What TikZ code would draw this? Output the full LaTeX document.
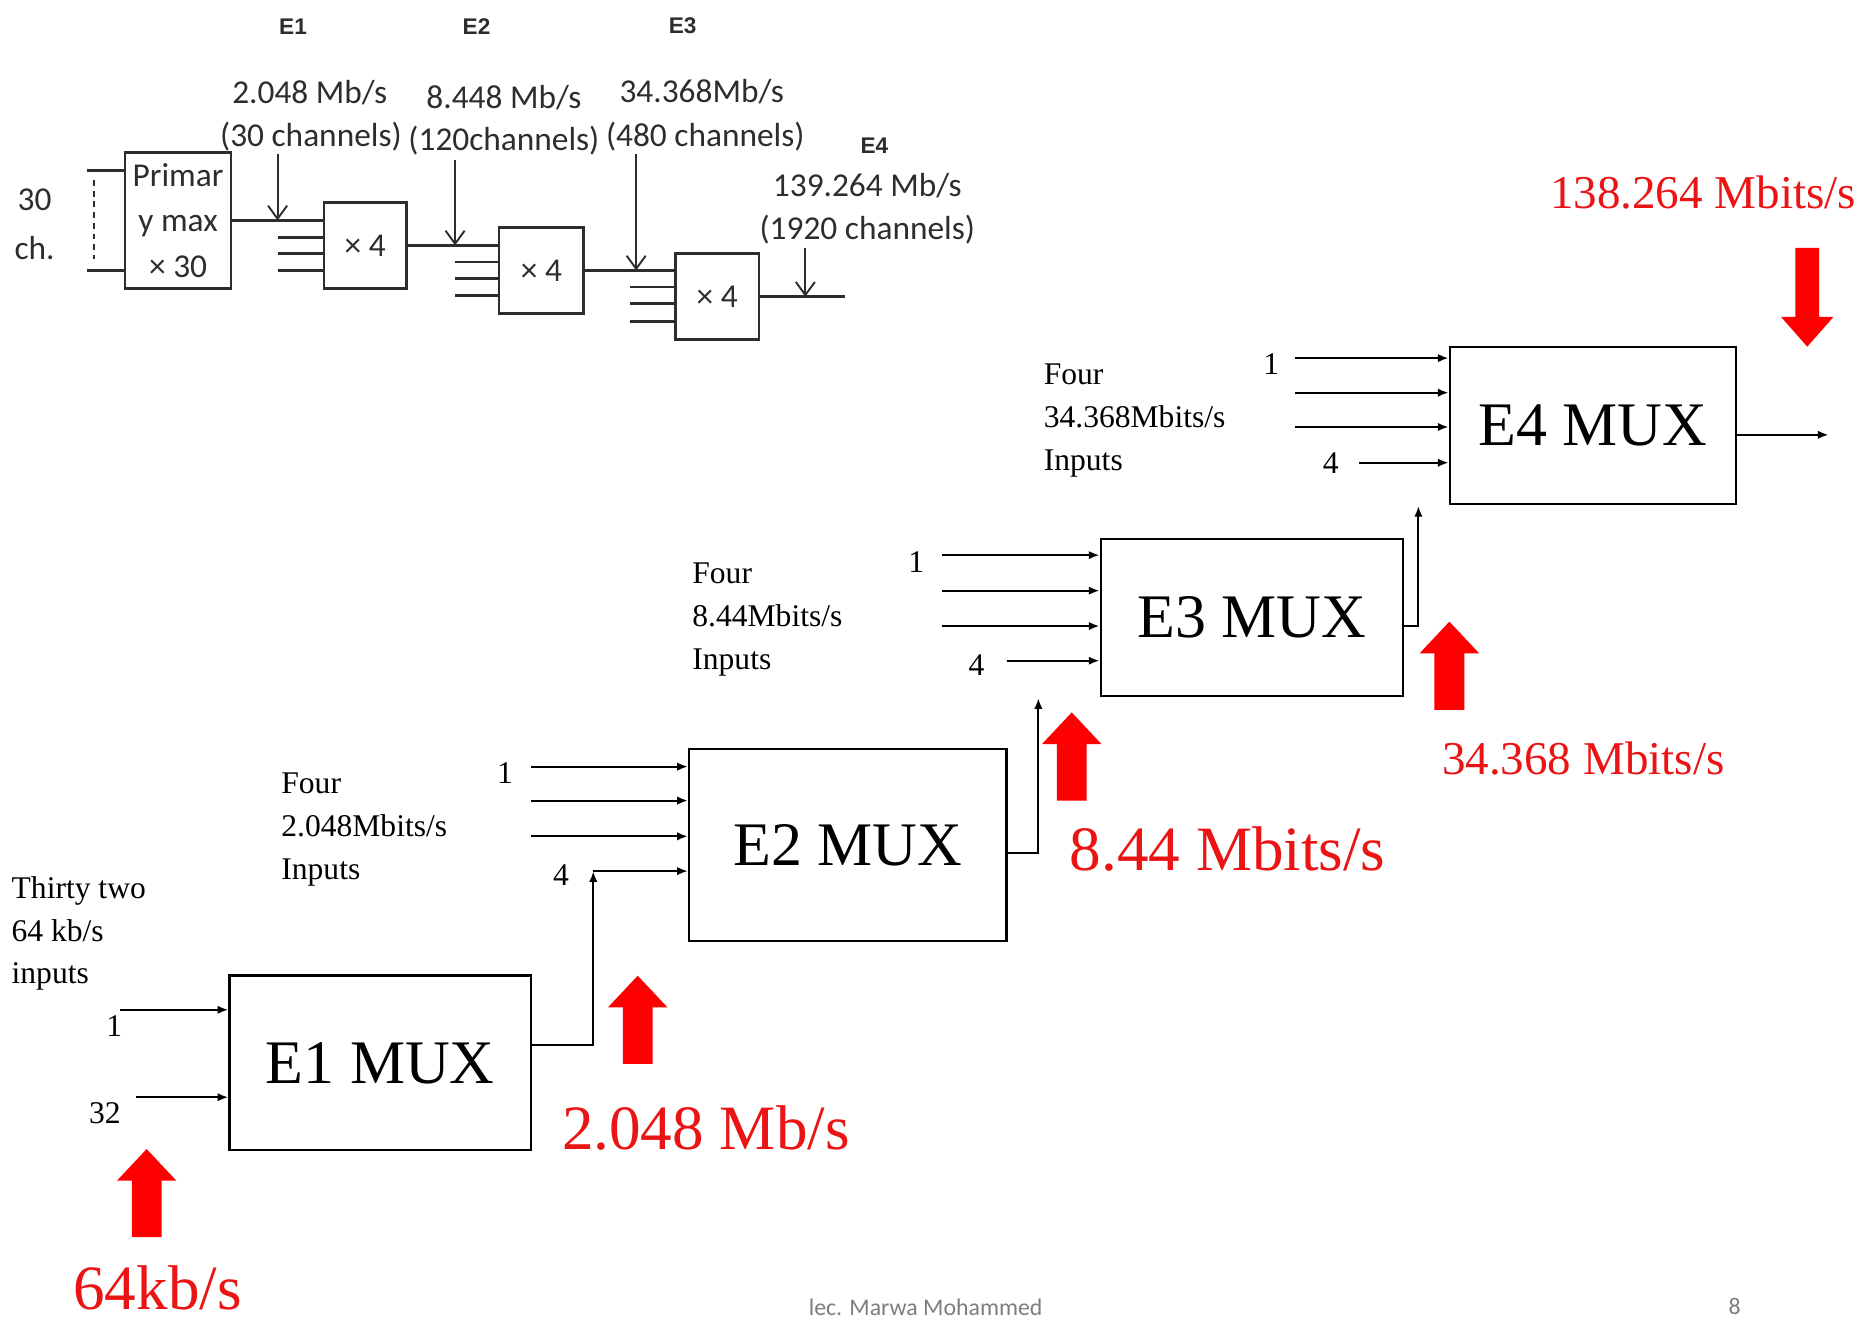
\documentclass[tikz,border=0pt]{standalone}
\usepackage{fontspec}
\setmainfont{Liberation Serif}
\newfontfamily\handfont{Carlito}
\newfontfamily\headfont{Liberation Sans}
\usepackage{tikz}
\usetikzlibrary{positioning,arrows.meta}
\definecolor{alertred}{RGB}{235,20,20}
\definecolor{arrowred}{RGB}{255,0,0}
\definecolor{inkgray}{RGB}{45,45,45}
\definecolor{footgray}{RGB}{125,125,125}
\newcommand{\redup}[2]{\fill[arrowred] (#1,#2) -- ++(25,26.6) -- ++(-12.5,0) -- ++(0,47.4) -- ++(-25,0) -- ++(0,-47.4) -- ++(-12.5,0) -- cycle;}
\newcommand{\reddown}[2]{\fill[arrowred] (#1,#2) -- ++(22,-25) -- ++(-12,0) -- ++(0,-58) -- ++(-20,0) -- ++(0,58) -- ++(-12,0) -- cycle;}

\begin{document}
\begin{tikzpicture}[x=1pt,y=-1pt,
  mux/.style={rectangle, draw, line width=2pt, inner sep=0pt, font=\fontsize{52}{60}\selectfont},
  inarr/.style={line width=1.8pt, -{Latex[length=9pt,width=7pt]}},
  lbl/.style={font=\fontsize{26.5}{36}\selectfont, inner sep=0pt, align=left},
  ratebig/.style={text=alertred, font=\fontsize{53}{60}\selectfont, inner sep=0pt},
  ratesmall/.style={text=alertred, font=\fontsize{39.5}{45}\selectfont, inner sep=0pt},
  hand/.style={text=inkgray, font=\handfont\fontsize{28}{38}\selectfont, inner sep=0pt},
  handbox/.style={rectangle, draw=inkgray, line width=2.2pt, inner sep=0pt, align=center,
                  text=inkgray, font=\handfont\fontsize{28}{38}\selectfont},
  handwire/.style={draw=inkgray, line width=2.2pt},
  handarr/.style={draw=inkgray, line width=1.6pt, -{Straight Barb[length=11pt,width=16pt]}},
  ehead/.style={text=inkgray, font=\headfont\bfseries\fontsize{19}{22}\selectfont, inner sep=0pt}
]
  \useasboundingbox (0,0) rectangle (1568,1109);

  % hierarchy sketch (top left)
  \node[ehead](h1) at (246,22){E1};
  \node[ehead](h2) at (400,22){E2};
  \node[ehead](h3) at (573,22){E3};
  \node[ehead](h4) at (734,122){E4};
  \node[hand](s1) at (260,78){2.048 Mb/s};
  \node[hand](c1) at (261,115){(30 channels)};
  \node[hand](s2) at (423,82){8.448 Mb/s};
  \node[hand](c2) at (423,118){(120channels)};
  \node[hand](s3) at (589,77){34.368Mb/s};
  \node[hand](c3) at (592,115){(480 channels)};
  \node[hand](s4) at (728,156){139.264 Mb/s};
  \node[hand](c4) at (728,193){(1920 channels)};
  \node[hand](ch1) at (29,168){30};
  \node[hand](ch2) at (29,208){ch.};
  \node[handbox, minimum width=89pt, minimum height=114pt](prim) at (149.5,185){Primar\\y max\\× 30};
  \node[handbox, minimum width=69pt, minimum height=72pt](mx2) at (306.5,206){× 4};
  \node[handbox, minimum width=71pt, minimum height=72pt](mx3) at (454.5,227){× 4};
  \node[handbox, minimum width=70pt, minimum height=72pt](mx4) at (602,249){× 4};
  \coordinate (pa) at (73,143);  \coordinate (pb) at (73,227);
  \coordinate (m2b) at (233,199.5); \coordinate (m2c) at (233,213); \coordinate (m2d) at (233,227);
  \coordinate (m3b) at (382,220);   \coordinate (m3c) at (382,234); \coordinate (m3d) at (382,248);
  \coordinate (m4b) at (529,241);   \coordinate (m4c) at (529,255); \coordinate (m4d) at (529,270);
  \coordinate (m4o) at (709,249);
  \coordinate (a1) at (233,129); \coordinate (a2) at (382,134);
  \coordinate (a3) at (534,129); \coordinate (a4) at (676,208);
  \draw[handwire](pa)--(pa -| prim.west);
  \draw[handwire](pb)--(pb -| prim.west);
  \draw[handwire, dash pattern=on 5pt off 4pt, line width=1.5pt](79,151)--(79,217);
  \draw[handwire](prim.east)--(prim.east -| mx2.west);
  \draw[handwire](m2b)--(m2b -| mx2.west);
  \draw[handwire](m2c)--(m2c -| mx2.west);
  \draw[handwire](m2d)--(m2d -| mx2.west);
  \draw[handwire](mx2.east)--(mx2.east -| mx3.west);
  \draw[handwire](m3b)--(m3b -| mx3.west);
  \draw[handwire](m3c)--(m3c -| mx3.west);
  \draw[handwire](m3d)--(m3d -| mx3.west);
  \draw[handwire](mx3.east)--(mx3.east -| mx4.west);
  \draw[handwire](m4b)--(m4b -| mx4.west);
  \draw[handwire](m4c)--(m4c -| mx4.west);
  \draw[handwire](m4d)--(m4d -| mx4.west);
  \draw[handwire](mx4.east)--(m4o);
  \draw[handarr](a1)--(a1 |- prim.east);
  \draw[handarr](a2)--(a2 |- mx2.east);
  \draw[handarr](a3)--(a3 |- mx3.east);
  \draw[handarr](a4)--(a4 |- mx4.east);

  % multiplexer staircase
  \node[mux, minimum width=253pt, minimum height=146.5pt](e1) at (319.2,892.2){\raisebox{-3pt}{E1 MUX}};
  \node[mux, minimum width=266.5pt, minimum height=161.5pt](e2) at (711.7,709.2){\raisebox{-3pt}{E2 MUX}};
  \node[mux, minimum width=253.5pt, minimum height=131.4pt](e3) at (1050.7,518.3){\raisebox{-3pt}{E3 MUX}};
  \node[mux, minimum width=240pt, minimum height=131.5pt](e4) at (1337,357.2){\raisebox{-3pt}{E4 MUX}};

  \node[lbl, anchor=west](t1) at (9.6,783.5){Thirty two\\64 kb/s\\inputs};
  \node[lbl, anchor=west](t2) at (236,696){Four\\2.048Mbits/s\\Inputs};
  \node[lbl, anchor=west](t3) at (581,520){Four\\8.44Mbits/s\\Inputs};
  \node[lbl, anchor=west](t4) at (876,353){Four\\34.368Mbits/s\\Inputs};
  \node[lbl](n1a) at (96,861){1};
  \node[lbl](n1b) at (88,934){32};
  \node[lbl](n2a) at (424,649){1};
  \node[lbl](n2d) at (471,734.5){4};
  \node[lbl](n3a) at (769,471.5){1};
  \node[lbl](n3d) at (819.7,558){4};
  \node[lbl](n4a) at (1067,306){1};
  \node[lbl](n4d) at (1117,389){4};

  \coordinate (e1a) at (101,847.6);  \coordinate (e1b) at (114,921);
  \coordinate (e2a) at (445.7,643.5); \coordinate (e2b) at (445.7,672); \coordinate (e2c) at (445.7,702);
  \coordinate (e1k) at (498,877.2);  \coordinate (e2d) at (498,731.2);
  \coordinate (e3a) at (791,466);    \coordinate (e3b) at (791,495.8); \coordinate (e3c) at (791,525.5);
  \coordinate (e3d) at (845,554.6);
  \coordinate (e2k) at (871.6,715.8); \coordinate (e3up) at (871.6,586);
  \coordinate (e4a) at (1087,300.6); \coordinate (e4b) at (1087,329.6); \coordinate (e4c) at (1087,358.4);
  \coordinate (e4d) at (1140.6,388.4);
  \coordinate (e3k) at (1190.6,525.5); \coordinate (e4up) at (1190.6,424.7);
  \coordinate (e4o) at (1535,365);

  \draw[inarr](e1a)--(e1a -| e1.west);
  \draw[inarr](e1b)--(e1b -| e1.west);
  \draw[inarr](e2a)--(e2a -| e2.west);
  \draw[inarr](e2b)--(e2b -| e2.west);
  \draw[inarr](e2c)--(e2c -| e2.west);
  \draw[inarr](e1.east |- e1k)--(e1k)--(e2d);
  \draw[inarr](e2d)--(e2d -| e2.west);
  \draw[inarr](e3a)--(e3a -| e3.west);
  \draw[inarr](e3b)--(e3b -| e3.west);
  \draw[inarr](e3c)--(e3c -| e3.west);
  \draw[inarr](e3d)--(e3d -| e3.west);
  \draw[inarr](e2.east |- e2k)--(e2k)--(e3up);
  \draw[inarr](e4a)--(e4a -| e4.west);
  \draw[inarr](e4b)--(e4b -| e4.west);
  \draw[inarr](e4c)--(e4c -| e4.west);
  \draw[inarr](e4d)--(e4d -| e4.west);
  \draw[inarr](e3.east |- e3k)--(e3k)--(e4up);
  \draw[inarr](e4.east |- e4o)--(e4o);

  % bit rates
  \node[ratebig](r0) at (132.3,1081){64kb/s};
  \node[ratebig](r1) at (592.5,946.5){2.048 Mb/s};
  \node[ratebig](r2) at (1030.5,713){8.44 Mbits/s};
  \node[ratesmall](r3) at (1329,637){34.368 Mbits/s};
  \node[ratesmall](r4) at (1429.5,162){138.264 Mbits/s};
  \redup{123.1}{964.5}
  \redup{535.3}{819}
  \redup{899.6}{598}
  \redup{1216.6}{521.8}
  \reddown{1517}{291}

  \node[text=footgray, font=\handfont\fontsize{20}{24}\selectfont, inner sep=0pt](foot) at (777,1097){lec. Marwa Mohammed};
  \node[text=footgray, font=\handfont\fontsize{20}{24}\selectfont, inner sep=0pt](page) at (1456,1097){8};
\end{tikzpicture}
\end{document}
